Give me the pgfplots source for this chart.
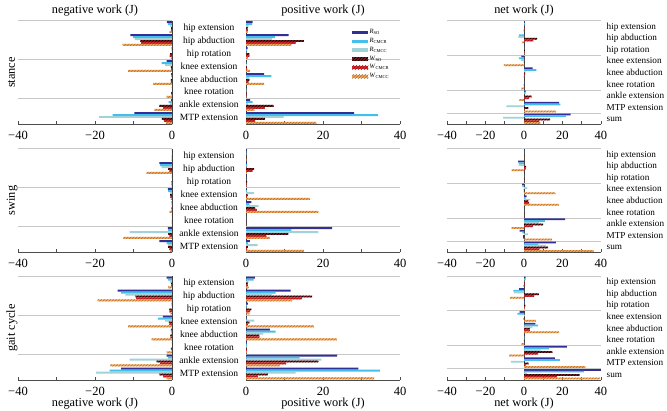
\documentclass[border=0pt]{standalone}
\usepackage{fontspec}
\setmainfont{Liberation Serif}
\usepackage{pgfplots}
\usepackage{pgfplotstable}
\pgfplotsset{compat=1.18}
\usetikzlibrary{patterns}

\definecolor{cRso}{RGB}{48,48,150}
\definecolor{cRcr}{RGB}{70,190,235}
\definecolor{cRcc}{RGB}{160,210,215}
\definecolor{cWso}{RGB}{125,25,30}
\definecolor{cWcr}{RGB}{215,40,45}
\definecolor{cWcc}{RGB}{242,165,85}
\definecolor{cWcrP}{RGB}{150,20,20}
\definecolor{cWccP}{RGB}{185,110,45}

\newcommand\tickfont{\fontsize{12.5}{13}\selectfont}
\newcommand\catfont{\fontsize{9.5}{10}\selectfont}
\newcommand\netcatfont{\fontsize{9.2}{10}\selectfont}
\newcommand\titlefont{\fontsize{12.3}{13}\selectfont}
\newcommand\legfont{\fontsize{6.5}{7}\selectfont}

\tikzset{
 rso/.style={fill=cRso,draw=none},
 rcr/.style={fill=cRcr,draw=none},
 rcc/.style={fill=cRcc,draw=none},
 wso/.style={fill=cWso,draw=none,postaction={pattern=north east lines,pattern color=black}},
 wcr/.style={fill=cWcr,draw=none,postaction={pattern=north east lines,pattern color=cWcrP}},
 wcc/.style={fill=cWcc,draw=none,postaction={pattern=north east lines,pattern color=cWccP}},
}

% columns: g rso rcr rcc wso wcr wcc
\pgfplotstableread{
g rso rcr rcc wso wcr wcc
0 -1.3 -1.0 -0.5 -0.2 -0.2 -0.7
1 -10.8 -10.1 -9.7 -8.2 -8.0 -12.8
2 -0.1 -0.1 0 -0.5 -0.6 -0.3
3 -1.4 -2.7 -1.8 -0.3 -0.2 -11.4
4 -0.2 -0.2 -0.1 -0.3 -0.3 -4.9
5 0 0 0 -0.2 -0.1 -1.4
6 -0.2 -0.9 -0.5 -3.3 -2.3 -4.6
7 -9.8 -15.4 -18.9 -2.6 -2.1 -1.6
}\stNeg
\pgfplotstableread{
g rso rcr rcc wso wcr wcc
0 1.7 1.6 0.7 0.4 0.5 0.5
1 11.1 7.5 6.8 15.0 12.9 11.8
2 0.4 0.2 0.1 0.9 0.9 0.5
3 0.1 0.1 0.2 0.2 0.3 1.0
4 4.7 6.6 0.9 0.9 0.7 4.7
5 0.1 0.1 0.1 0.1 0.1 0.1
6 1.1 1.7 0.5 7.2 4.9 2.2
7 28.1 34.3 9.8 4.9 2.4 18.3
}\stPos
\pgfplotstableread{
g rso rcr rcc wso wcr wcc
0 0.4 0.6 0.2 0.2 0.3 -0.2
1 0.3 -2.6 -2.9 6.8 4.9 -1.0
2 0.3 0.1 0.1 0.4 0.3 0.2
3 -1.3 -2.6 -1.6 -0.1 0.1 -10.4
4 4.5 6.4 0.8 0.6 0.4 -0.2
5 0.1 0.1 0.1 -0.1 0 -1.3
6 0.9 0.8 0 3.9 2.6 -2.4
7 18.3 18.9 -9.1 2.3 0.3 16.7
8 24.2 21.8 -10.8 13.6 8.0 8.5
}\stNet
\pgfplotstableread{
g rso rcr rcc wso wcr wcc
0 0 0 0 0 0 -0.1
1 -3.3 -3.1 -2.7 -1.0 -0.7 -6.6
2 0 0 0 -0.1 -0.1 -0.1
3 -1.1 -1.0 -0.5 -0.5 -0.4 -0.3
4 -0.1 -0.1 -0.1 -0.1 -0.1 -0.7
5 0 0 0 0 0 0
6 -1.1 -1.0 -11.0 -1.0 -0.7 -12.6
7 -3.3 -1.4 -1.0 -1.0 -0.7 -0.5
}\swNeg
\pgfplotstableread{
g rso rcr rcc wso wcr wcc
0 0.2 0.1 0.1 0.1 0.1 0.1
1 0.2 0.3 0.1 2.1 1.7 0.2
2 0 0 0 0.3 0.1 0.1
3 0.1 0.2 2.1 0.4 0.3 16.6
4 1.4 0.9 3.3 2.4 2.8 18.8
5 0 0 0 0 0 0
6 22.4 11.8 18.8 11.0 5.3 6.2
7 1.0 0.5 3.0 0.5 0.3 15.0
}\swPos
\pgfplotstableread{
g rso rcr rcc wso wcr wcc
0 0.2 0.1 0.1 0.1 0.1 0
1 -3.1 -2.8 -2.6 1.1 1.0 -6.4
2 0 0 0 0.2 0 0
3 -1.0 -0.8 1.6 -0.1 -0.1 16.3
4 1.3 0.8 3.2 2.3 2.7 18.1
5 0 0 0 0 0 0
6 21.3 10.8 7.8 10.0 4.6 -6.4
7 -2.3 -0.9 2.0 -0.5 -0.4 14.5
8 16.5 7.5 11.5 12.5 8.0 36.2
}\swNet
\pgfplotstableread{
g rso rcr rcc wso wcr wcc
0 -1.4 -1.1 -0.5 -0.2 -0.2 -1.0
1 -14.1 -13.2 -12.1 -9.5 -9.3 -19.3
2 -0.1 -0.1 0 -0.7 -0.7 -0.4
3 -2.4 -3.6 -1.8 -0.8 -0.7 -11.4
4 -0.3 -0.3 -0.2 -0.4 -0.4 -5.3
5 0 0 0 -0.3 -0.1 -1.4
6 -1.4 -1.0 -11.0 -4.0 -3.1 -16.0
7 -13.2 -16.2 -19.7 -3.3 -2.3 -1.4
}\gcNeg
\pgfplotstableread{
g rso rcr rcc wso wcr wcc
0 2.3 2.0 0.7 0.5 0.5 0.7
1 11.6 7.7 6.8 17.2 14.6 12.0
2 0.5 0.3 0.1 1.4 1.1 0.9
3 0.1 0.1 2.2 0.9 0.5 17.6
4 6.2 7.7 4.5 3.5 3.5 23.6
5 0.2 0.2 0.2 0.2 0.2 0.2
6 23.7 13.9 19.6 18.8 10.4 8.8
7 29.2 34.8 12.9 5.7 3.1 33.3
}\gcPos
\pgfplotstableread{
g rso rcr rcc wso wcr wcc
0 0.9 0.9 0.2 0.3 0.3 -0.3
1 -2.5 -5.5 -5.3 7.7 5.3 -7.3
2 0.4 0.2 0.1 0.7 0.4 0.5
3 -2.3 -3.5 0.4 0.1 -0.2 6.2
4 5.9 7.4 4.3 3.1 3.1 18.3
5 0.2 0.2 0.2 -0.1 0.1 -1.2
6 22.3 12.9 8.6 14.8 7.3 -7.7
7 16.0 18.6 -6.8 2.4 0.8 31.9
8 40.0 31.1 1.5 28.9 17.1 39.5
}\gcNet

\newcommand{\sixbars}[1]{%
\addplot[rso] table[x=rso,y expr=-\thisrow{g}+0.375]{#1};
\addplot[rcr] table[x=rcr,y expr=-\thisrow{g}+0.225]{#1};
\addplot[rcc] table[x=rcc,y expr=-\thisrow{g}+0.075]{#1};
\addplot[wso] table[x=wso,y expr=-\thisrow{g}-0.075]{#1};
\addplot[wcr] table[x=wcr,y expr=-\thisrow{g}-0.225]{#1};
\addplot[wcc] table[x=wcc,y expr=-\thisrow{g}-0.375]{#1};
}

\pgfplotsset{
 panel/.style={
   scale only axis, width=154pt, height=104pt, anchor=south west,
   xbar, bar width=0.15, bar shift=0pt,
   ymin=-7.5, ymax=0.5, enlargelimits=false,
   axis x line*=bottom, axis y line*=right,
   axis line style={-},
   x axis line style={draw=black!70, line width=0.7pt},
   y axis line style={draw=none},
   tick align=inside, major tick length=3pt, minor tick length=3pt,
   xtick style={draw=black!70, line width=0.6pt},
   ytick style={draw=none},
   minor x tick num=1,
   xticklabel style={font=\tickfont, anchor=base, inner sep=0pt, yshift=-15pt},
   yticklabel style={font=\catfont},
   extra x ticks={0}, extra x tick labels={},
   extra x tick style={grid=major, major grid style={draw=black!75, line width=0.7pt}},
   extra y tick labels={},
   extra y tick style={grid=major, major grid style={draw=black!22, line width=0.6pt}},
   title style={font=\titlefont, at={(0.5,1)}, anchor=base, yshift=1pt, inner sep=0pt},
   xlabel style={font=\titlefont, at={(axis description cs:0.5,0)}, anchor=base, yshift=-26pt, inner sep=0pt},
   ylabel style={font=\titlefont, at={(axis description cs:-0.02,0.5)}, anchor=base, inner sep=0pt},
 },
 negp/.style={panel, xmin=-40, xmax=0, xtick={-40,-20,0}, xticklabels={−40,−20,0},
   ytick={-7,-6,-5,-4,-3,-2,-1,0},
   yticklabels={MTP extension,ankle extension,knee rotation,knee abduction,knee extension,hip rotation,hip abduction,hip extension},
   yticklabel style={anchor=base, inner sep=0pt, xshift=37pt, yshift=-3pt},
   extra y ticks={0.5,-2.5,-5.5}},
 posp/.style={panel, xmin=0, xmax=40, xtick={0,20,40}, xticklabels={0,20,40},
   ytick=\empty, extra y ticks={0.5,-2.5,-5.5}},
 netp/.style={panel, xmin=-40, xmax=40, ymin=-8.5, xtick={-40,-20,0,20,40}, xticklabels={−40,−20,0,20,40},
   ytick={-8,-7,-6,-5,-4,-3,-2,-1,0},
   yticklabels={sum,MTP extension,ankle extension,knee rotation,knee abduction,knee extension,hip rotation,hip abduction,hip extension},
   yticklabel style={anchor=base west, inner sep=0pt, xshift=5.5pt, yshift=-3pt, font=\netcatfont},
   extra y ticks={0.5,-2.5,-5.5,-7.5}},
}

\begin{document}
\begin{tikzpicture}
\path[use as bounding box] (0,0) rectangle (667pt,410pt);
% row 1: stance
\begin{axis}[negp, at={(18pt,285.5pt)}, title={negative work (J)}, ylabel={stance}]
\sixbars{\stNeg}
\end{axis}
\begin{axis}[posp, at={(246pt,285.5pt)}, title={positive work (J)},
  legend style={at={(axis description cs:0.69,0.925)}, anchor=north west, draw=none, fill=none,
    font=\legfont, inner sep=0pt, row sep=0.6pt, nodes={inner sep=1.2pt}},
  legend cell align=left,
  legend image code/.code={\draw[#1,draw=none] (0pt,-1.8pt) rectangle (16pt,1.8pt);}]
\sixbars{\stPos}
\legend{\textit{R}\textsubscript{SO},\textit{R}\textsubscript{CMCR},\textit{R}\textsubscript{CMCC},\textit{W}\textsubscript{SO},\textit{W}\textsubscript{CMCR},\textit{W}\textsubscript{CMCC}}
\end{axis}
\begin{axis}[netp, at={(447pt,285.5pt)}, title={net work (J)}]
\sixbars{\stNet}
\end{axis}
% row 2: swing
\begin{axis}[negp, at={(18pt,157.5pt)}, ylabel={swing}]
\sixbars{\swNeg}
\end{axis}
\begin{axis}[posp, at={(246pt,157.5pt)}]
\sixbars{\swPos}
\end{axis}
\begin{axis}[netp, at={(447pt,157.5pt)}]
\sixbars{\swNet}
\end{axis}
% row 3: gait cycle
\begin{axis}[negp, at={(18pt,30pt)}, ylabel={gait cycle}, xlabel={negative work (J)}]
\sixbars{\gcNeg}
\end{axis}
\begin{axis}[posp, at={(246pt,30pt)}, xlabel={positive work (J)}]
\sixbars{\gcPos}
\end{axis}
\begin{axis}[netp, at={(447pt,30pt)}, xlabel={net work (J)}]
\sixbars{\gcNet}
\end{axis}
\end{tikzpicture}
\end{document}
